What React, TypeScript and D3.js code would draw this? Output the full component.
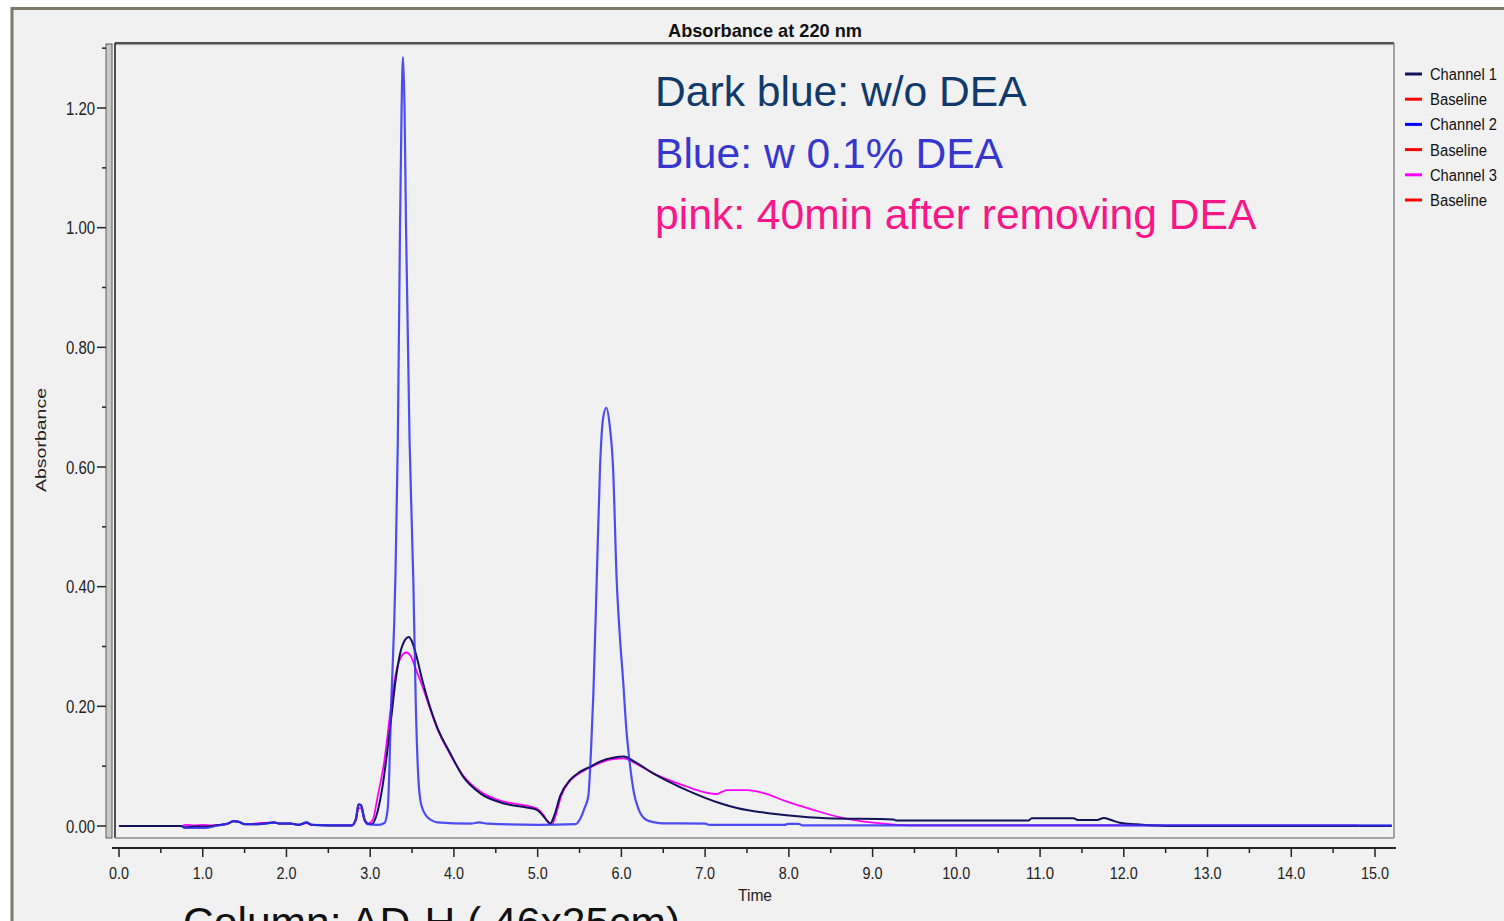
import React from "react";
import * as d3 from "d3";

// ---------- data ----------
const chartTitle = "Absorbance at 220 nm";
const xAxisTitle = "Time";
const yAxisTitle = "Absorbance";

const xTickValues = [0, 1, 2, 3, 4, 5, 6, 7, 8, 9, 10, 11, 12, 13, 14, 15];
const xTickLabels = ["0.0", "1.0", "2.0", "3.0", "4.0", "5.0", "6.0", "7.0", "8.0", "9.0", "10.0", "11.0", "12.0", "13.0", "14.0", "15.0"];
const xMinorTicks = [0.5, 1.5, 2.5, 3.5, 4.5, 5.5, 6.5, 7.5, 8.5, 9.5, 10.5, 11.5, 12.5, 13.5, 14.5];

const yTickValues = [0, 0.2, 0.4, 0.6, 0.8, 1.0, 1.2];
const yTickLabels = ["0.00", "0.20", "0.40", "0.60", "0.80", "1.00", "1.20"];
const yMinorTicks = [0.1, 0.3, 0.5, 0.7, 0.9, 1.1, 1.3];

const legendLabels = ["Channel 1", "Baseline", "Channel 2", "Baseline", "Channel 3", "Baseline"];
const legendColors = ["#12125a", "#ff0000", "#0000ff", "#ff0000", "#ff00ff", "#ff0000"];

const annotationLines = ["Dark blue: w/o DEA", "Blue: w 0.1% DEA", "pink: 40min after removing DEA"];
const annotationColors = ["#113a6c", "#3737cf", "#fb1688"];
const footnote = "Column: AD-H (.46x25cm)";

// Channel 1 (dark blue, w/o DEA): [time, absorbance]
const channel1: [number, number][] = [
  [0.0, 0.0], [0.74, 0.0], [0.78, -0.002], [0.9, -0.001], [1.05, -0.001], [1.15, 0.001], [1.3, 0.004],
  [1.37, 0.008], [1.43, 0.007], [1.5, 0.003], [1.65, 0.003], [1.75, 0.004], [1.85, 0.006], [1.92, 0.004],
  [2.05, 0.004], [2.15, 0.002], [2.24, 0.006], [2.3, 0.002], [2.5, 0.001], [2.78, 0.001], [2.83, 0.012],
  [2.86, 0.036], [2.89, 0.035], [2.93, 0.012], [2.97, 0.004], [3.02, 0.003], [3.08, 0.02], [3.14, 0.06],
  [3.2, 0.12], [3.257, 0.188], [3.3, 0.24], [3.36, 0.29], [3.42, 0.312], [3.46, 0.316], [3.5, 0.308],
  [3.56, 0.28], [3.62, 0.245], [3.714, 0.199], [3.8, 0.165], [3.954, 0.122], [4.112, 0.082], [4.31, 0.055],
  [4.587, 0.038], [4.869, 0.031], [4.99, 0.027], [5.06, 0.018], [5.11, 0.009], [5.15, 0.004], [5.2, 0.018],
  [5.268, 0.05], [5.387, 0.077], [5.5, 0.09], [5.626, 0.099], [5.75, 0.108], [5.9, 0.114], [6.03, 0.116],
  [6.15, 0.108], [6.38, 0.088], [6.78, 0.06], [7.18, 0.038], [7.38, 0.03], [7.78, 0.021], [7.97, 0.018],
  [8.45, 0.013], [9.25, 0.011], [9.28, 0.009], [10.86, 0.009], [10.9, 0.013], [11.4, 0.013], [11.45, 0.01],
  [11.68, 0.01], [11.76, 0.0135], [11.85, 0.01], [11.95, 0.0055], [12.15, 0.003], [12.35, 0.001], [12.5, 0.0],
  [15.2, 0.0],
];

// Channel 2 (blue, w 0.1% DEA)
const channel2: [number, number][] = [
  [0.75, 0.0], [0.78, -0.003], [0.9, -0.003], [1.05, -0.003], [1.15, 0.0], [1.3, 0.004], [1.37, 0.008],
  [1.43, 0.007], [1.5, 0.003], [1.65, 0.003], [1.75, 0.004], [1.85, 0.006], [1.92, 0.004], [2.05, 0.004],
  [2.15, 0.002], [2.24, 0.006], [2.3, 0.002], [2.78, 0.001], [2.83, 0.012], [2.86, 0.036], [2.89, 0.035],
  [2.93, 0.012], [2.97, 0.003], [3.1, 0.002], [3.17, 0.005], [3.21, 0.03], [3.25, 0.2], [3.3, 0.41],
  [3.33, 0.645], [3.356, 1.0], [3.375, 1.2], [3.392, 1.285], [3.41, 1.2], [3.428, 1.0], [3.47, 0.645],
  [3.515, 0.41], [3.545, 0.2], [3.575, 0.08], [3.61, 0.035], [3.675, 0.016], [3.74, 0.009], [3.8, 0.006],
  [4.2, 0.004], [4.3, 0.006], [4.4, 0.004], [5.0, 0.002], [5.45, 0.003], [5.5, 0.01], [5.56, 0.03],
  [5.605, 0.05], [5.635, 0.12], [5.665, 0.22], [5.705, 0.41], [5.745, 0.6], [5.78, 0.68], [5.82, 0.699],
  [5.86, 0.67], [5.9, 0.6], [5.944, 0.41], [5.98, 0.32], [6.02, 0.244], [6.06, 0.16], [6.1, 0.105],
  [6.15, 0.055], [6.2, 0.03], [6.3, 0.01], [6.4, 0.006], [6.5, 0.0045], [7.0, 0.004], [7.05, 0.002],
  [7.95, 0.002], [7.99, 0.0035], [8.12, 0.0035], [8.16, 0.001], [15.2, 0.001],
];

// Channel 3 (pink, 40 min after removing DEA)
const channel3: [number, number][] = [
  [0.75, 0.0], [0.8, 0.002], [0.9, 0.001], [1.0, 0.002], [1.1, 0.001], [1.3, 0.004], [1.37, 0.008],
  [1.43, 0.007], [1.5, 0.003], [1.7, 0.005], [1.85, 0.006], [1.92, 0.004], [2.05, 0.004], [2.15, 0.002],
  [2.24, 0.005], [2.3, 0.002], [2.78, 0.001], [2.83, 0.01], [2.86, 0.03], [2.89, 0.03], [2.93, 0.01],
  [2.97, 0.004], [3.03, 0.01], [3.09, 0.05], [3.17, 0.11], [3.24, 0.19], [3.3, 0.25], [3.37, 0.283],
  [3.43, 0.29], [3.48, 0.285], [3.55, 0.26], [3.62, 0.235], [3.714, 0.196], [3.8, 0.163], [3.954, 0.12],
  [4.112, 0.084], [4.31, 0.058], [4.587, 0.041], [4.869, 0.034], [4.99, 0.029], [5.06, 0.02], [5.12, 0.008],
  [5.17, 0.003], [5.22, 0.02], [5.28, 0.05], [5.39, 0.076], [5.5, 0.088], [5.626, 0.098], [5.75, 0.106],
  [5.9, 0.112], [6.03, 0.113], [6.15, 0.106], [6.38, 0.088], [6.78, 0.066], [6.98, 0.057], [7.14, 0.0535],
  [7.2, 0.057], [7.26, 0.06], [7.5, 0.06], [7.7, 0.055], [7.97, 0.041], [8.29, 0.027], [8.61, 0.0145],
  [9.01, 0.0055], [9.3, 0.002], [9.57, 0.001], [14.8, 0.001],
];

// ---------- layout ----------
const W = 1504;
const H = 921;
const plot = { left: 115, right: 1394, top: 43, bottom: 838 };

export default function App() {
  const x = d3.scaleLinear().domain([0, 15]).range([119, 1375]);
  const y = d3.scaleLinear().domain([0, 1.2]).range([826, 108]);
  const line = d3
    .line<[number, number]>()
    .x((d) => x(d[0]))
    .y((d) => y(d[1]))
    .curve(d3.curveMonotoneX);

  const axisY = 848;
  const font = "'Liberation Sans', Arial, sans-serif";

  return (
    <svg
      width={W}
      height={H}
      viewBox={`0 0 ${W} ${H}`}
      style={{ position: "absolute", left: 0, top: 0, background: "#ffffff" }}
    >
      <defs>
        <clipPath id="plotClip">
          <rect x={plot.left} y={plot.top} width={plot.right - plot.left} height={plot.bottom - plot.top} />
        </clipPath>
      </defs>

      {/* outer frame */}
      <rect x={12} y={8.5} width={W + 20} height={H + 20} fill="#f1f1f1" stroke="#7e7968" strokeWidth={3} />

      {/* title */}
      <text x={765} y={37} textAnchor="middle" fontFamily={font} fontWeight="bold" fontSize={19}
        textLength={194} lengthAdjust="spacingAndGlyphs" fill="#111">
        {chartTitle}
      </text>

      {/* plot frame */}
      <rect x={plot.left} y={plot.top} width={plot.right - plot.left} height={plot.bottom - plot.top} fill="#f1f1f1" />
      <line x1={plot.left} x2={plot.right} y1={plot.top} y2={plot.top} stroke="#1a1a1a" strokeWidth={1.5} />
      <line x1={plot.left} x2={plot.right} y1={plot.top + 1.6} y2={plot.top + 1.6} stroke="#9a9a9a" strokeWidth={1} />
      <line x1={plot.left} x2={plot.left} y1={plot.top} y2={plot.bottom} stroke="#1a1a1a" strokeWidth={1.5} />
      <line x1={plot.right} x2={plot.right} y1={plot.top} y2={plot.bottom} stroke="#8a8a8a" strokeWidth={1.5} />
      <line x1={plot.left} x2={plot.right} y1={plot.bottom} y2={plot.bottom} stroke="#8a8a8a" strokeWidth={1.5} />

      {/* y axis bar */}
      <rect x={106} y={44} width={6} height={plot.bottom - 44} fill="#c9c9c9" stroke="#5a5a5a" strokeWidth={1} />
      {yTickValues.map((v, i) => (
        <g key={"yt" + i}>
          <line x1={97} x2={106} y1={y(v)} y2={y(v)} stroke="#222" strokeWidth={1.5} />
          <text x={95} y={y(v) + 6.5} textAnchor="end" fontFamily={font} fontSize={17.5}
            textLength={29} lengthAdjust="spacingAndGlyphs" fill="#222">
            {yTickLabels[i]}
          </text>
        </g>
      ))}
      {yMinorTicks.map((v, i) => (
        <line key={"ym" + i} x1={102} x2={106} y1={y(v)} y2={y(v)} stroke="#222" strokeWidth={1.5} />
      ))}
      <text transform={`translate(46,440) rotate(-90)`} textAnchor="middle" fontFamily={font} fontSize={15}
        textLength={104} lengthAdjust="spacingAndGlyphs" fill="#222">
        {yAxisTitle}
      </text>

      {/* x axis */}
      <line x1={112} x2={1396} y1={axisY} y2={axisY} stroke="#222" strokeWidth={2} />
      {xTickValues.map((v, i) => (
        <g key={"xt" + i}>
          <line x1={x(v)} x2={x(v)} y1={axisY} y2={axisY + 9} stroke="#222" strokeWidth={1.5} />
          <text x={x(v)} y={878.5} textAnchor="middle" fontFamily={font} fontSize={17}
            textLength={xTickLabels[i].length > 3 ? 28 : 20} lengthAdjust="spacingAndGlyphs" fill="#222">
            {xTickLabels[i]}
          </text>
        </g>
      ))}
      {xMinorTicks.map((v, i) => (
        <line key={"xm" + i} x1={x(v)} x2={x(v)} y1={axisY} y2={axisY + 5} stroke="#222" strokeWidth={1.5} />
      ))}
      <text x={755} y={901} textAnchor="middle" fontFamily={font} fontSize={17}
        textLength={34} lengthAdjust="spacingAndGlyphs" fill="#222">
        {xAxisTitle}
      </text>

      {/* series */}
      <g clipPath="url(#plotClip)" fill="none" strokeLinejoin="round">
        <path d={line(channel3) || ""} stroke="#ff00ff" strokeWidth={1.8} />
        <path d={line(channel1) || ""} stroke="#12125a" strokeWidth={2} />
        <path d={line(channel2) || ""} stroke="#2f2ff2" strokeOpacity={0.85} strokeWidth={2.2} />
      </g>

      {/* legend */}
      {legendLabels.map((lab, i) => {
        const cy = 74 + i * 25.2;
        return (
          <g key={"lg" + i}>
            <line x1={1405} x2={1422} y1={cy} y2={cy} stroke={legendColors[i]} strokeWidth={3} />
            <text x={1430} y={cy + 6} fontFamily={font} fontSize={16}
              textLength={lab.startsWith("Channel") ? 67 : 57} lengthAdjust="spacingAndGlyphs" fill="#111">
              {lab}
            </text>
          </g>
        );
      })}

      {/* annotations */}
      {annotationLines.map((t, i) => (
        <text key={"an" + i} x={655} y={106 + i * 61.5} fontFamily={font} fontSize={42.6} fill={annotationColors[i]}>
          {t}
        </text>
      ))}
      <text x={183} y={937} fontFamily={font} fontSize={42.6} fill="#111">
        {footnote}
      </text>
    </svg>
  );
}
